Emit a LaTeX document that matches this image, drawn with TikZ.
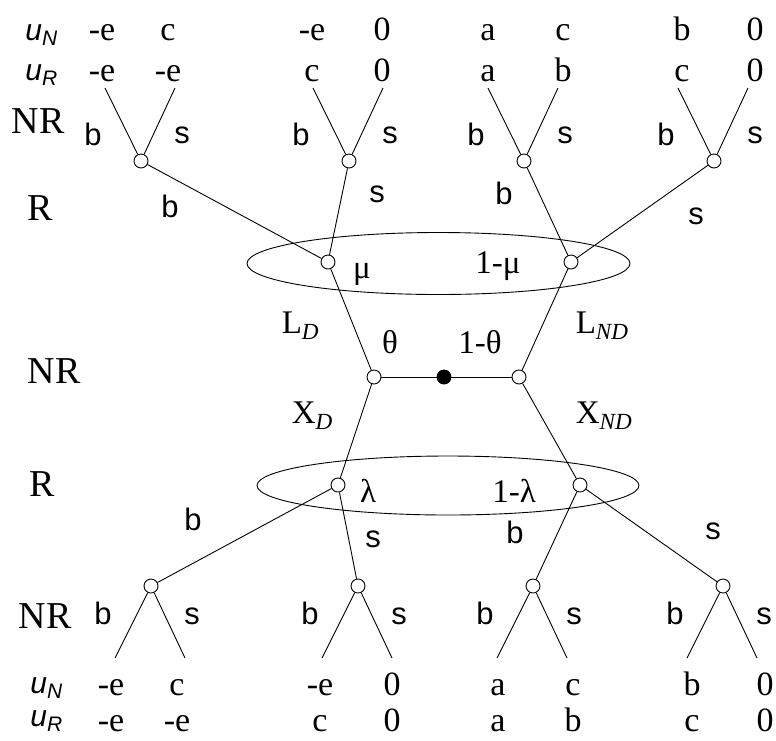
\documentclass[tikz,border=0pt]{standalone}
\usepackage{fontspec}
\setmainfont{Liberation Serif}
\setsansfont{Liberation Sans}
\usetikzlibrary{positioning}

\begin{document}
\begin{tikzpicture}[x=1pt,y=-1pt,line width=0.9pt,
  dec/.style={circle,draw,fill=white,inner sep=0pt,minimum size=14pt},
  chance/.style={dec,fill=black},
  pay/.style={font=\fontsize{34}{36}\selectfont,anchor=base,inner sep=0pt},
  act/.style={font=\sffamily\fontsize{31}{34}\selectfont,anchor=base},
  player/.style={font=\fontsize{38}{40}\selectfont,anchor=base},
  prob/.style={font=\fontsize{33}{36}\selectfont,anchor=base},
  util/.style={font=\sffamily\itshape\fontsize{30}{34}\selectfont,anchor=base west,inner sep=0pt}]
  \useasboundingbox (0,0) rectangle (776,740);

  % Players
  \node[player] (pNRtop) at (38,133) {NR};
  \node[player] (pRup) at (40,220) {R};
  \node[player] (pNRmid) at (54,383) {NR};
  \node[player] (pRlow) at (42,496) {R};
  \node[player] (pNRbot) at (45,628) {NR};
  \node[util] (uNtop) at (25,40) {u\textsubscript{N}};
  \node[util] (uRtop) at (25,80) {u\textsubscript{R}};
  \node[util] (uNbot) at (30,693) {u\textsubscript{N}};
  \node[util] (uRbot) at (30,726) {u\textsubscript{R}};

  % Middle: chance move
  \node[chance] (c0) at (444,377) {};
  \node[dec] (nL) at (374,377) {};
  \node[dec] (nR) at (519,377) {};
  \draw (nL) -- (c0) -- (nR);
  \node[prob] (th) at (390,353) {θ};
  \node[prob] (thc) at (480,353) {1-θ};
  \node[prob,anchor=base west] (LD) at (278,333) {L\textsubscript{\textit{D}}};
  \node[prob,anchor=base west] (LND) at (572,333) {L\textsubscript{\textit{ND}}};
  \node[prob,anchor=base west] (XD) at (288,423) {X\textsubscript{\textit{D}}};
  \node[prob,anchor=base west] (XND) at (572,423) {X\textsubscript{\textit{ND}}};

  % Upper information set
  \draw (438.5,263.5) ellipse (191.5pt and 31pt);
  \node[dec] (rL) at (328,262) {};
  \node[dec] (rR) at (571,262) {};
  \node[prob] (mu) at (362,278) {μ};
  \node[prob] (muc) at (498,273) {1-μ};
  \draw (nL) -- (rL);
  \draw (nR) -- (rR);

  % Lower information set
  \draw (448,485.5) ellipse (191pt and 29.5pt);
  \node[dec] (lL) at (338,485) {};
  \node[dec] (lR) at (580,485) {};
  \node[prob] (la) at (368,502) {λ};
  \node[prob] (lac) at (514,502) {1-λ};
  \draw (nL) -- (lL);
  \draw (nR) -- (lR);

  % Top subgames
  \foreach \k/\x/\xl/\xr/\pa/\pb/\pc/\pd in {1/141/102/168/-e/c/-e/-e,
      2/349/312/382/-e/0/c/0, 3/524/488/563/a/c/a/b, 4/714/682/755/b/0/c/0} {
    \node[dec] (t\k) at (\x,161) {};
    \coordinate (t\k b) at (\x-36,88);
    \coordinate (t\k s) at (\x+34,88);
    \draw (t\k b) -- (t\k) -- (t\k s);
    \node[act] at (\x-48,145) {b};
    \node[act] at (\x+41,143) {s};
    \node[pay] at (\xl,40) {\pa};
    \node[pay] at (\xr,40) {\pb};
    \node[pay] at (\xl,81) {\pc};
    \node[pay] at (\xr,81) {\pd};
  }
  \draw (rL) -- (t1);
  \draw (rL) -- (t2);
  \draw (rR) -- (t3);
  \draw (rR) -- (t4);
  \node[act] at (170,217) {b};
  \node[act] at (377,202) {s};
  \node[act] at (504,204) {b};
  \node[act] at (696,224) {s};

  % Bottom subgames
  \foreach \k/\x/\xl/\xr/\pa/\pb/\pc/\pd in {1/151/111/177/-e/c/-e/-e,
      2/358/320/392/-e/0/c/0, 3/533/498/573/a/c/a/b, 4/723/692/765/b/0/c/0} {
    \node[dec] (b\k) at (\x,586) {};
    \coordinate (b\k b) at (\x-36,658);
    \coordinate (b\k s) at (\x+34,658);
    \draw (b\k b) -- (b\k) -- (b\k s);
    \node[act] at (\x-48,624) {b};
    \node[act] at (\x+41,624) {s};
    \node[pay] at (\xl,695) {\pa};
    \node[pay] at (\xr,695) {\pb};
    \node[pay] at (\xl,731) {\pc};
    \node[pay] at (\xr,731) {\pd};
  }
  \draw (lL) -- (b1);
  \draw (lL) -- (b2);
  \draw (lR) -- (b3);
  \draw (lR) -- (b4);
  \node[act] at (193,530) {b};
  \node[act] at (373,547) {s};
  \node[act] at (515,543) {b};
  \node[act] at (713,539) {s};
\end{tikzpicture}
\end{document}
